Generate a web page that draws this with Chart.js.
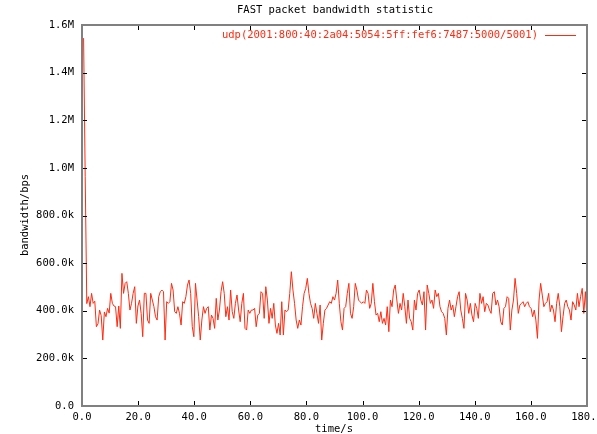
<!DOCTYPE html>
<html>
<head>
<meta charset="utf-8">
<script src="https://cdn.jsdelivr.net/npm/chart.js@4/dist/chart.umd.min.js"></script>
<style>
  html, body { margin: 0; padding: 0; background: #fff; }
  #wrap { width: 597px; height: 434px; }
</style>
</head>
<body>
<div id="wrap"><canvas id="bw" width="597" height="434"></canvas></div>
<script>
// bandwidth samples in kbps (one every sampleInterval seconds)
const bandwidthK = [
  1545, 965, 430,
  459, 417, 473, 431, 440, 333, 345, 403, 380, 277,
  395, 375, 410, 390, 473, 431, 420, 417, 333, 420,
  326, 557, 473, 515, 522, 473, 403, 431, 473, 501,
  347, 420, 445, 389, 291, 473, 473, 361, 347, 473,
  445, 417, 375, 361, 459, 480, 487, 480, 277, 438,
  431, 438, 515, 487, 396, 389, 417, 389, 340, 438,
  431, 459, 508, 529, 473, 333, 291, 515, 445, 375,
  277, 361, 417, 389, 410, 417, 319,
  382, 368, 326, 452, 361, 403, 480, 522, 473, 375,
  417, 361, 487, 396, 368, 431, 466, 403, 354, 431,
  473, 326, 319, 403, 389, 403, 403, 410, 333, 382,
  389, 480, 473, 368, 501, 445, 347, 410, 368, 431,
  340, 305, 347, 298, 438, 298, 403, 396, 403, 473,
  564, 487, 431, 361, 326, 361, 340, 417, 473, 494,
  536, 473, 431, 410, 368, 431, 389, 347, 424, 277,
  347, 403, 410, 424, 438, 431, 459, 445, 473,
  529, 431, 354, 319, 410, 417, 473, 515, 389, 368,
  417, 515, 487, 445, 438, 431, 438, 431, 487, 473,
  410, 431, 515, 438, 382, 389, 354, 396, 347, 368,
  340, 417, 312, 445, 417, 487, 508, 445, 389, 431,
  403, 473, 417, 347, 445, 368, 354, 319, 445, 403,
  473, 487, 445, 424, 480, 319, 508, 473, 431, 445,
  410, 487, 459, 473, 417, 396, 389, 368, 298, 410,
  445, 403, 424, 375, 417, 459, 480, 403,
  368, 326, 473, 445, 389, 431, 382, 354, 431, 410,
  368, 473, 431, 459, 396, 431, 424, 403, 389, 473,
  480, 424, 445, 417, 354, 340, 410, 417, 459, 452,
  319, 403, 445, 536, 473, 389, 424, 431, 438, 417,
  431, 438, 417, 410, 375, 403, 361, 284, 445, 515,
  466, 417, 431, 438, 473, 396, 424, 403, 354, 431,
  473, 417, 312, 375, 431, 445, 417, 403, 361, 438,
  424, 403, 473, 417, 459, 494, 389, 480, 368
];
const sampleInterval = 180 / bandwidthK.length;
const xTicks = [0, 20, 40, 60, 80, 100, 120, 140, 160, 180];
const yTicks = [0, 200000, 400000, 600000, 800000, 1000000, 1200000, 1400000, 1600000];
const seriesName = 'udp(2001:800:40:2a04:5054:5ff:fef6:7487:5000/5001)';
const chartTitle = 'FAST packet bandwidth statistic';

const FONT = '"DejaVu Sans Mono", "Liberation Mono", monospace';
const RED = '#ff2a10';

const points = bandwidthK.map((v, i) => ({ x: (i + 1) * sampleInterval, y: v * 1000 }));

const fmtY = (v) => {
  if (v === 0) return '0.0';
  if (v >= 1e6) return (v / 1e6).toFixed(1) + 'M';
  return (v / 1e3).toFixed(1) + 'k';
};

// gnuplot look: grey frame, inward ticks on all four sides, texts
const gnuplotDecor = {
  id: 'gnuplotDecor',
  afterDatasetsDraw(chart) {
    const { ctx, chartArea: a, scales } = chart;
    ctx.save();
    ctx.strokeStyle = '#000';
    ctx.lineWidth = 1;
    ctx.beginPath();
    xTicks.forEach(t => {
      const px = Math.round(scales.x.getPixelForValue(t)) + 0.5;
      ctx.moveTo(px, a.bottom); ctx.lineTo(px, a.bottom - 5);
      ctx.moveTo(px, a.top); ctx.lineTo(px, a.top + 5);
    });
    yTicks.forEach(t => {
      const py = Math.round(scales.y.getPixelForValue(t)) + 0.5;
      ctx.moveTo(a.left, py); ctx.lineTo(a.left + 5, py);
      ctx.moveTo(a.right, py); ctx.lineTo(a.right - 5, py);
    });
    ctx.stroke();

    ctx.strokeStyle = '#808080';
    ctx.lineWidth = 2;
    ctx.strokeRect(a.left, a.top, a.right - a.left, a.bottom - a.top);

    ctx.font = '10.5px ' + FONT;
    ctx.fillStyle = '#000';
    ctx.textAlign = 'center';
    ctx.textBaseline = 'middle';
    ctx.fillText(chartTitle, 335, 10);
    ctx.fillText('time/s', 334, 429);
    ctx.save();
    ctx.translate(25, 215);
    ctx.rotate(-Math.PI / 2);
    ctx.fillText('bandwidth/bps', 0, 0);
    ctx.restore();

    // key inside the plot, top right
    ctx.fillStyle = RED;
    ctx.textAlign = 'right';
    ctx.fillText(seriesName, 538, 35);
    ctx.strokeStyle = RED;
    ctx.lineWidth = 1;
    ctx.beginPath();
    ctx.moveTo(545, 35.5); ctx.lineTo(576, 35.5);
    ctx.stroke();
    ctx.restore();
  }
};

new Chart(document.getElementById('bw'), {
  type: 'line',
  data: {
    datasets: [{
      label: seriesName,
      data: points,
      borderColor: RED,
      borderWidth: 1,
      pointRadius: 0,
      tension: 0,
      fill: false
    }]
  },
  options: {
    responsive: false,
    animation: false,
    layout: { padding: { top: 25, right: 10, left: 0, bottom: 0 } },
    plugins: {
      legend: { display: false },
      title: { display: false },
      tooltip: { enabled: false }
    },
    scales: {
      x: {
        type: 'linear',
        min: 0, max: 180,
        afterFit: (s) => { s.height = 28; s.paddingLeft = 0; s.paddingRight = 0; },
        afterBuildTicks: (s) => { s.ticks = xTicks.map(v => ({ value: v })); },
        grid: { display: false, drawTicks: false },
        border: { display: false },
        ticks: {
          color: '#000',
          padding: 5,
          maxRotation: 0,
          autoSkip: false,
          font: { family: FONT, size: 10.5 },
          callback: (v) => v.toFixed(1)
        }
      },
      y: {
        min: 0, max: 1600000,
        afterFit: (s) => { s.width = 82; s.paddingTop = 0; s.paddingBottom = 0; },
        afterBuildTicks: (s) => { s.ticks = yTicks.map(v => ({ value: v })); },
        grid: { display: false, drawTicks: false },
        border: { display: false },
        ticks: {
          color: '#000',
          padding: 8,
          autoSkip: false,
          font: { family: FONT, size: 10.5 },
          callback: fmtY
        }
      }
    }
  },
  plugins: [gnuplotDecor]
});
</script>
</body>
</html>
